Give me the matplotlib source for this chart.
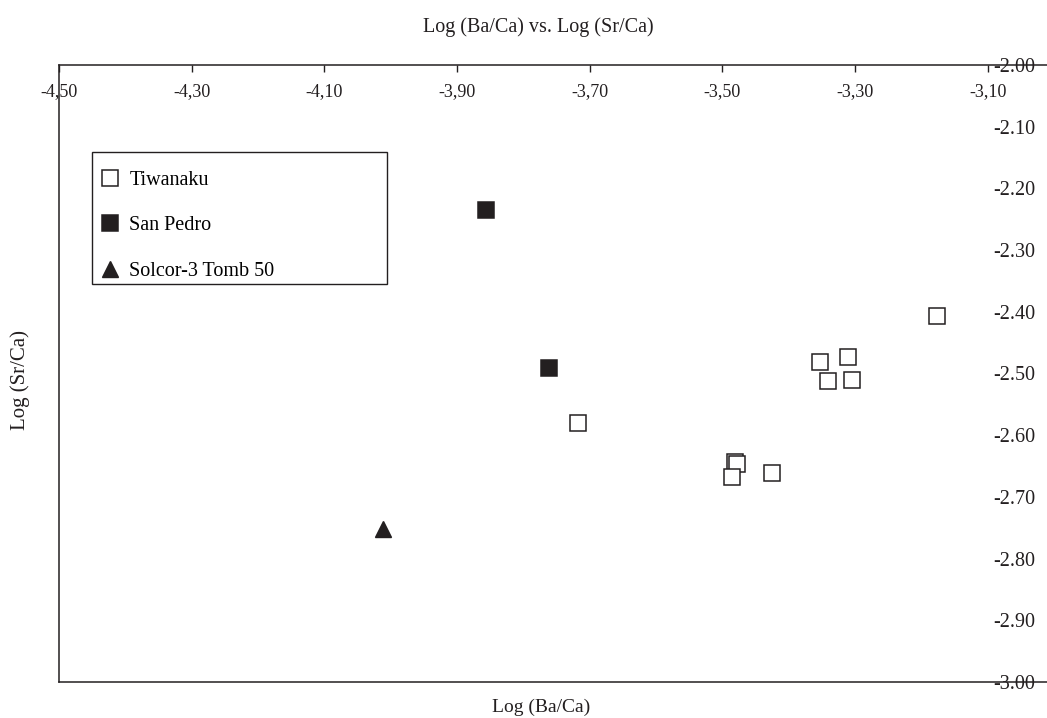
import matplotlib
matplotlib.use("Agg")
import matplotlib.pyplot as plt
from matplotlib.patches import Rectangle

plt.rcParams['font.family'] = ['Liberation Serif', 'DejaVu Serif']
plt.rcParams['axes.unicode_minus'] = False

# data: log(Ba/Ca), log(Sr/Ca)
tiwanaku_x = [-3.177, -3.353, -3.310, -3.341, -3.305, -3.481, -3.478, -3.485, -3.425, -3.718]
tiwanaku_y = [-2.407, -2.482, -2.474, -2.512, -2.511, -2.643, -2.647, -2.667, -2.661, -2.580]
sanpedro_x = [-3.856, -3.761]
sanpedro_y = [-2.235, -2.491]
solcor_x = [-4.012]
solcor_y = [-2.752]

xticks = [-4.50, -4.30, -4.10, -3.90, -3.70, -3.50, -3.30, -3.10]
yticks = [-2.00, -2.10, -2.20, -2.30, -2.40, -2.50, -2.60, -2.70, -2.80, -2.90, -3.00]

ink = '#231f20'
W, H = 1047, 718
fig = plt.figure(figsize=(W / 100, H / 100), dpi=100)
# axes runs a little past the right edge, like the cropped original
ax = fig.add_axes([59 / W, 1 - 682 / H, 995 / W, 617 / H])
ax.set_xlim(-4.5, -3.0)
ax.set_ylim(-3.0, -2.0)

ax.plot(tiwanaku_x, tiwanaku_y, ls='none', marker='s', ms=11, mfc='white',
        mec=ink, mew=1.1, label='Tiwanaku')
ax.plot(sanpedro_x, sanpedro_y, ls='none', marker='s', ms=11, mfc=ink,
        mec=ink, mew=1.1, label='San Pedro')
ax.plot(solcor_x, solcor_y, ls='none', marker='^', ms=12, mfc=ink,
        mec=ink, mew=1.0, label='Solcor-3 Tomb 50')

for side in ['top', 'left', 'bottom']:
    ax.spines[side].set_color(ink)
    ax.spines[side].set_linewidth(1.1)
ax.spines['right'].set_visible(False)

ax.xaxis.set_ticks_position('top')
ax.set_xticks(xticks)
ax.set_xticklabels([('%.2f' % v).replace('.', ',') for v in xticks])
ax.tick_params(axis='x', direction='in', length=5, width=1.0, color=ink,
               labelsize=13, pad=-13, labelcolor=ink)
for lab in ax.get_xticklabels():
    lab.set_verticalalignment('top')

ax.yaxis.set_ticks_position('right')
ax.set_yticks(yticks)
ax.set_yticklabels(['%.2f' % v for v in yticks])
ax.tick_params(axis='y', length=0, labelsize=14.5, pad=-13.5, labelcolor=ink)
for lab in ax.get_yticklabels():
    lab.set_horizontalalignment('right')

fig.text(538 / W, 1 - 27 / H, 'Log (Ba/Ca) vs. Log (Sr/Ca)', ha='center', va='center',
         fontsize=14.5, color=ink)
fig.text(541 / W, 1 - 707 / H, 'Log (Ba/Ca)', ha='center', va='center',
         fontsize=14, color=ink)
fig.text(20 / W, 1 - 380 / H, 'Log (Sr/Ca)', ha='center', va='center',
         rotation=90, fontsize=15, color=ink)

# legend box drawn on its own, entries placed inside it
ax.add_patch(Rectangle((92 / W, 1 - 284 / H), 295 / W, 132 / H, transform=fig.transFigure,
                       facecolor='white', edgecolor=ink, linewidth=1.0, zorder=4,
                       clip_on=False))
leg = ax.legend(loc='upper left', bbox_to_anchor=(100 / W, 1 - 171 / H),
                bbox_transform=fig.transFigure, numpoints=1, frameon=False,
                fontsize=14.5, borderpad=0, labelspacing=1.3, handlelength=1.0,
                handletextpad=0.45, borderaxespad=0)
leg.set_zorder(5)

fig.savefig('out.png', dpi=100)
